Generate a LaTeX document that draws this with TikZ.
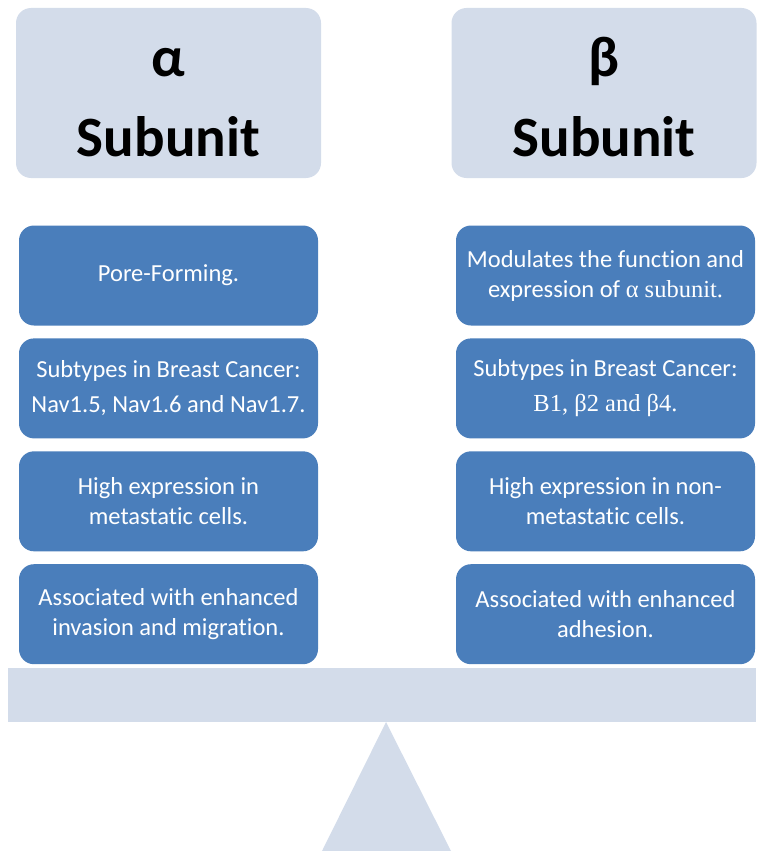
\documentclass[tikz,border=0pt]{standalone}
\usepackage{fontspec}
\setmainfont{Carlito}[Ligatures=NoCommon]
\newfontfamily\timesfont{Liberation Serif}
\usetikzlibrary{positioning}
\definecolor{paleblue}{HTML}{D3DCEA}
\definecolor{boxblue}{HTML}{4A7EBB}

\begin{document}
\begin{tikzpicture}[x=1pt,y=-1pt,node distance=12.5pt]
      \useasboundingbox (0,0) rectangle (756,851);
      \begin{scope}[every node/.style={rectangle,rounded corners=15pt,fill=paleblue,
          minimum width=305pt,minimum height=170pt,align=center,
          font=\fontsize{57}{80}\selectfont\bfseries}]
        \node (alphaHead) at (168.5,93) {\rule{0pt}{48pt}α\\Subunit};
        \node (betaHead) at (604,93) {\rule{0pt}{48pt}β\\Subunit};
      \end{scope}
      \begin{scope}[every node/.style={rectangle,rounded corners=15pt,fill=boxblue,
          text=white,minimum width=299pt,minimum height=100pt,align=center,
          font=\fontsize{24.5}{30}\selectfont}]
        \node (a1) at (168.5,275.5) {Pore-Forming.};
        \node (a2) [below=of a1] {Subtypes in Breast Cancer:\\[5pt]Nav1.5, Nav1.6 and Nav1.7.};
        \node (a3) [below=of a2] {High expression in\\metastatic cells.};
        \node (a4) [below=of a3] {Associated with enhanced\\invasion and migration.};
        \node (b1) at (605.5,275.5) {Modulates the function and\\expression of {\timesfont α subunit.}};
        \node (b2) [below=of b1] {Subtypes in Breast Cancer:\\[5pt]{\timesfont B1, β2 and β4.}};
        \node (b3) [below=of b2] {High expression in non-\\metastatic cells.};
        \node (b4) [below=of b3] {Associated with enhanced\\adhesion.};
      \end{scope}
      \node (plank) [fill=paleblue,minimum width=748pt,minimum height=54pt,inner sep=0pt] at (382,695) {};
      \coordinate (apex) at (386,722);
      \fill[paleblue] (apex) -- (451,851) -- (322,851) -- cycle;
    \end{tikzpicture}
\end{document}
